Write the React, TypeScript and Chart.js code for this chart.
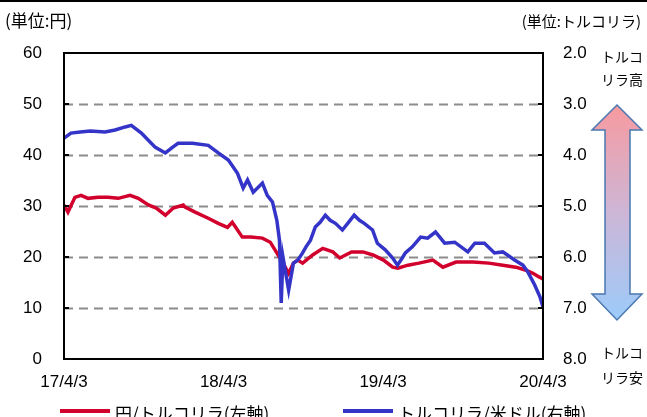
import React, { useEffect, useRef } from "react";
import { Chart, registerables } from "chart.js";
Chart.register(...registerables);

const START = "2017-04-03";
const xTickDates = ["2017-04-03", "2018-04-03", "2019-04-03", "2020-04-03"];
const xTickLabels = ["17/4/3", "18/4/3", "19/4/3", "20/4/3"];
const leftTicks = [0, 10, 20, 30, 40, 50, 60];
const rightTicks = [2, 3, 4, 5, 6, 7, 8];

const seriesNames = ["円/トルコリラ(左軸)", "トルコリラ/米ドル(右軸)"];

// 円/トルコリラ (left axis)
const jpyDates = [
  "2017-04-03", "2017-04-12", "2017-04-28", "2017-05-12", "2017-05-28", "2017-06-20",
  "2017-07-13", "2017-08-05", "2017-09-01", "2017-09-20", "2017-10-13", "2017-10-31",
  "2017-11-21", "2017-12-09", "2018-01-01", "2018-01-05", "2018-01-28", "2018-02-27",
  "2018-03-22", "2018-04-12", "2018-04-23", "2018-05-16", "2018-06-04", "2018-07-01",
  "2018-07-19", "2018-08-03", "2018-08-17", "2018-08-30", "2018-09-10", "2018-09-20",
  "2018-10-01", "2018-10-24", "2018-11-16", "2018-12-09", "2018-12-25", "2019-01-21",
  "2019-02-16", "2019-03-11", "2019-04-04", "2019-04-25", "2019-05-07", "2019-05-30",
  "2019-06-24", "2019-07-26", "2019-08-18", "2019-09-17", "2019-10-26", "2019-12-01",
  "2020-01-02", "2020-02-01", "2020-02-24", "2020-03-11", "2020-03-25", "2020-04-03",
];
const jpyValues = [
  30.2, 28.8, 31.7, 32.1, 31.5, 31.7,
  31.7, 31.5, 32.1, 31.5, 30.2, 29.6,
  28.2, 29.6, 30.2, 29.8, 28.8, 27.6,
  26.6, 25.8, 26.8, 23.9, 23.9, 23.7,
  22.9, 20.8, 18.8, 16.8, 18.8, 19.4,
  18.8, 20.4, 21.7, 21.0, 19.8, 21.0,
  21.0, 20.4, 19.4, 18.0, 17.8, 18.4,
  18.8, 19.4, 18.0, 19.0, 19.0, 18.8,
  18.4, 18.0, 17.4, 16.8, 16.1, 15.7,
];

// トルコリラ/米ドル (right axis, reversed)
const tryDates = [
  "2017-04-03", "2017-04-19", "2017-05-10", "2017-06-02", "2017-07-06", "2017-07-29",
  "2017-08-21", "2017-09-04", "2017-09-27", "2017-10-13", "2017-10-29", "2017-11-21",
  "2017-12-07", "2017-12-20", "2018-01-22", "2018-02-27", "2018-03-22", "2018-04-14",
  "2018-05-05", "2018-05-18", "2018-05-28", "2018-06-10", "2018-07-01", "2018-07-12",
  "2018-07-24", "2018-08-03", "2018-08-09", "2018-08-13", "2018-08-17", "2018-08-30",
  "2018-09-10", "2018-09-20", "2018-10-01", "2018-10-08", "2018-10-19", "2018-10-30",
  "2018-11-10", "2018-11-22", "2018-12-03", "2018-12-15", "2018-12-31", "2019-01-14",
  "2019-01-27", "2019-02-08", "2019-02-19", "2019-03-10", "2019-03-21", "2019-04-08",
  "2019-04-25", "2019-05-06", "2019-05-17", "2019-05-24", "2019-06-09", "2019-06-28",
  "2019-07-14", "2019-08-01", "2019-08-22", "2019-09-14", "2019-10-14", "2019-10-30",
  "2019-11-21", "2019-12-14", "2020-01-02", "2020-01-29", "2020-02-17", "2020-02-28",
  "2020-03-15", "2020-03-27", "2020-04-03",
];
const tryValues = [
  3.67, 3.57, 3.55, 3.53, 3.55, 3.51,
  3.45, 3.42, 3.57, 3.71, 3.85, 3.96,
  3.85, 3.77, 3.77, 3.81, 3.96, 4.10,
  4.36, 4.65, 4.49, 4.73, 4.55, 4.79,
  4.92, 5.28, 5.67, 6.90, 6.00, 6.65,
  6.12, 6.06, 5.92, 5.81, 5.67, 5.41,
  5.32, 5.18, 5.28, 5.34, 5.47, 5.32,
  5.18, 5.28, 5.34, 5.47, 5.73, 5.86,
  6.02, 6.16, 6.02, 5.92, 5.80, 5.61,
  5.63, 5.51, 5.73, 5.71, 5.90, 5.73,
  5.73, 5.92, 5.90, 6.06, 6.16, 6.29,
  6.55, 6.78, 6.98,
];

const dayOf = (s: string) =>
  Math.round((Date.parse(s) - Date.parse(START)) / 86400000);

const RED = "#D2002C";
const BLUE = "#3434C8";
const JP = '"Noto Sans CJK JP", "Noto Sans", sans-serif';
const LAT = '"Liberation Sans", Arial, sans-serif';

const decor = {
  id: "decor",
  beforeDatasetsDraw(chart: any) {
    const { ctx, chartArea: a, scales } = chart;
    const y = scales.y;
    ctx.save();
    ctx.strokeStyle = "#8C8C8C";
    ctx.lineWidth = 2;
    ctx.setLineDash([9, 6]);
    leftTicks.forEach((v) => {
      if (v === 0 || v === 60) return;
      const py = Math.round(y.getPixelForValue(v)) + 0.5;
      ctx.beginPath();
      ctx.moveTo(a.left, py);
      ctx.lineTo(a.right, py);
      ctx.stroke();
    });
    ctx.restore();
  },
  afterDatasetsDraw(chart: any) {
    const { ctx, chartArea: a, scales } = chart;
    const y = scales.y;
    ctx.save();
    ctx.strokeStyle = "#000";
    ctx.lineWidth = 2;
    ctx.setLineDash([]);
    ctx.strokeRect(a.left, a.top, a.right - a.left, a.bottom - a.top);
    leftTicks.forEach((v) => {
      const py = y.getPixelForValue(v);
      ctx.beginPath();
      ctx.moveTo(a.left, py);
      ctx.lineTo(a.left + 5, py);
      ctx.moveTo(a.right, py);
      ctx.lineTo(a.right - 5, py);
      ctx.stroke();
    });
    ctx.restore();
  },
  afterDraw(chart: any) {
    const { ctx } = chart;
    const W = chart.width;
    ctx.save();
    ctx.fillStyle = "#000";
    ctx.fillRect(0, 0, W, 2);
    ctx.textBaseline = "middle";
    ctx.font = `17px ${JP}`;
    ctx.textAlign = "left";
    ctx.fillText("(単位:円)", 5, 21);
    ctx.font = `15px ${JP}`;
    ctx.textAlign = "right";
    ctx.fillText("(単位:トルコリラ)", 641, 21);
    ctx.font = `14px ${JP}`;
    ctx.textAlign = "center";
    ctx.fillText("トルコ", 622, 57);
    ctx.fillText("リラ高", 622, 80);
    ctx.fillText("トルコ", 622, 353);
    ctx.fillText("リラ安", 622, 378);
    const cx = 617, top = 105, bot = 320, hb1 = 130, hb2 = 294;
    const hl = 592, hr = 642, sl = 605, sr = 630;
    const g = ctx.createLinearGradient(0, top, 0, bot);
    g.addColorStop(0, "#F79AA0");
    g.addColorStop(0.5, "#CDB6D6");
    g.addColorStop(1, "#9CCBFA");
    ctx.beginPath();
    ctx.moveTo(cx, top);
    ctx.lineTo(hr, hb1);
    ctx.lineTo(sr, hb1);
    ctx.lineTo(sr, hb2);
    ctx.lineTo(hr, hb2);
    ctx.lineTo(cx, bot);
    ctx.lineTo(hl, hb2);
    ctx.lineTo(sl, hb2);
    ctx.lineTo(sl, hb1);
    ctx.lineTo(hl, hb1);
    ctx.closePath();
    ctx.fillStyle = g;
    ctx.fill();
    ctx.strokeStyle = "#4A78B0";
    ctx.lineWidth = 1.5;
    ctx.stroke();
    const ly = 411;
    ctx.lineWidth = 4;
    ctx.strokeStyle = RED;
    ctx.beginPath();
    ctx.moveTo(60, ly);
    ctx.lineTo(110, ly);
    ctx.stroke();
    ctx.strokeStyle = BLUE;
    ctx.beginPath();
    ctx.moveTo(343, ly);
    ctx.lineTo(393, ly);
    ctx.stroke();
    ctx.font = `17px ${JP}`;
    ctx.textAlign = "left";
    ctx.fillStyle = "#000";
    ctx.fillText(seriesNames[0], 115, 414);
    ctx.fillText(seriesNames[1], 398, 414);
    ctx.restore();
  },
};

export default function App() {
  const ref = useRef<HTMLCanvasElement | null>(null);
  useEffect(() => {
    document.body.style.margin = "0";
    const xTicks = xTickDates.map(dayOf);
    const chart = new Chart(ref.current as HTMLCanvasElement, {
      type: "line",
      data: {
        datasets: [
          {
            label: seriesNames[1],
            data: tryDates.map((d, i) => ({ x: dayOf(d), y: tryValues[i] })),
            borderColor: BLUE,
            borderWidth: 3.5,
            pointRadius: 0,
            tension: 0,
            yAxisID: "y1",
            order: 0,
          },
          {
            label: seriesNames[0],
            data: jpyDates.map((d, i) => ({ x: dayOf(d), y: jpyValues[i] })),
            borderColor: RED,
            borderWidth: 3.5,
            pointRadius: 0,
            tension: 0,
            yAxisID: "y",
            order: 1,
          },
        ],
      },
      options: {
        animation: false,
        responsive: false,
        layout: { padding: { top: 53, left: 0, right: 0, bottom: 0 } },
        plugins: { legend: { display: false }, tooltip: { enabled: false } },
        scales: {
          x: {
            type: "linear",
            min: xTicks[0],
            max: xTicks[xTicks.length - 1],
            grid: { display: false, drawTicks: false },
            border: { display: false },
            afterBuildTicks: (s: any) => {
              s.ticks = xTicks.map((v) => ({ value: v }));
            },
            afterFit: (s: any) => {
              s.height = 58;
            },
            ticks: {
              padding: 13,
              maxRotation: 0,
              autoSkip: false,
              color: "#000",
              font: { family: LAT, size: 17 },
              callback: (v: any) => {
                const i = xTicks.indexOf(Number(v));
                return i >= 0 ? xTickLabels[i] : "";
              },
            },
          },
          y: {
            position: "left",
            min: 0,
            max: 60,
            grid: { display: false, drawTicks: false },
            border: { display: false },
            afterBuildTicks: (s: any) => {
              s.ticks = leftTicks.map((v) => ({ value: v }));
            },
            afterFit: (s: any) => {
              s.width = 64;
            },
            ticks: {
              padding: 22,
              color: "#000",
              font: { family: LAT, size: 17 },
            },
          },
          y1: {
            position: "right",
            min: 2,
            max: 8,
            reverse: true,
            grid: { display: false, drawTicks: false },
            border: { display: false },
            afterBuildTicks: (s: any) => {
              s.ticks = rightTicks.map((v) => ({ value: v }));
            },
            afterFit: (s: any) => {
              s.width = 104;
            },
            ticks: {
              padding: 20,
              color: "#000",
              font: { family: LAT, size: 17 },
              callback: (v: any) => Number(v).toFixed(1),
            },
          },
        },
      },
      plugins: [decor],
    });
    return () => chart.destroy();
  }, []);
  return (
    <canvas ref={ref} width={647} height={417} style={{ display: "block" }} />
  );
}
